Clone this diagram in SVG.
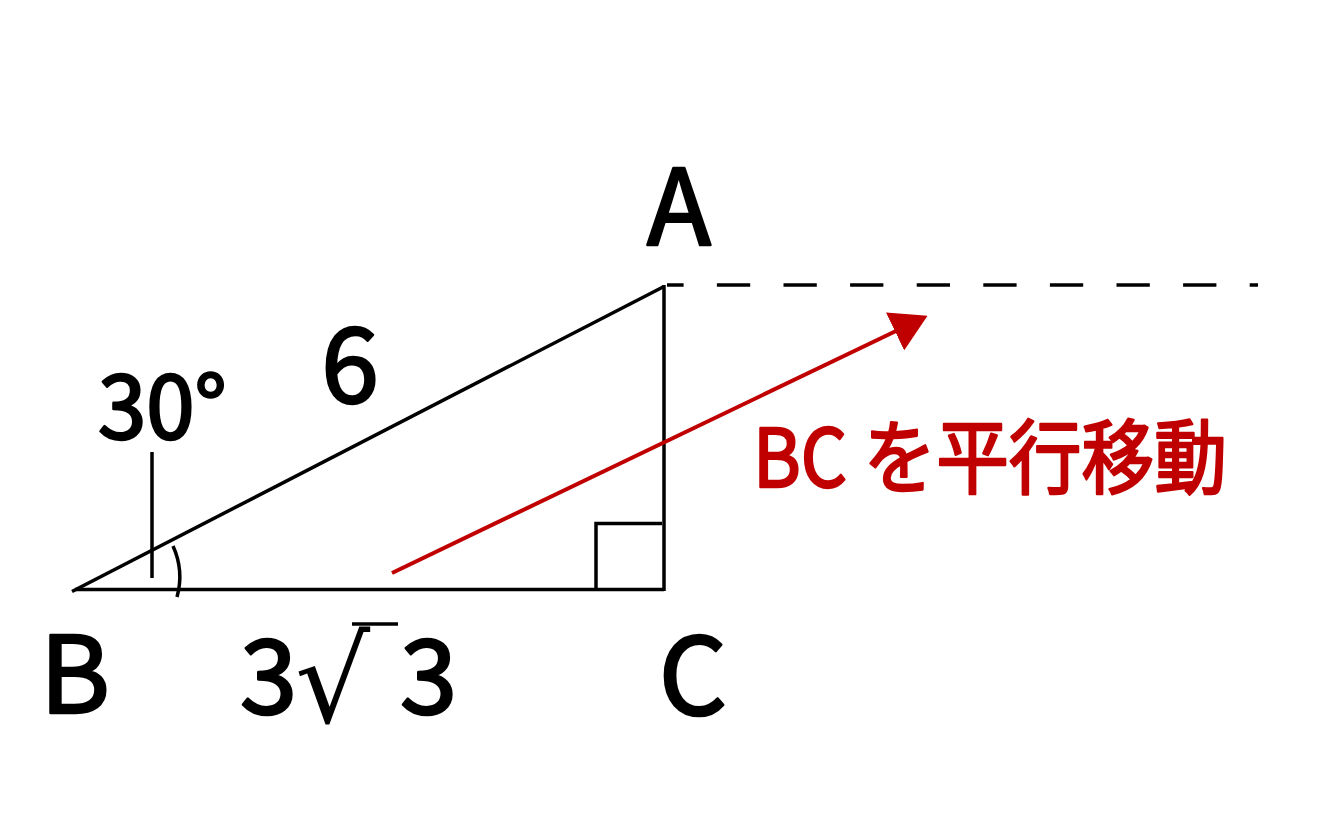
<svg xmlns="http://www.w3.org/2000/svg" width="1327" height="833" viewBox="0 0 1327 833">
<style>
.ln{stroke:#000;stroke-width:3.5;fill:none}
.lbl{font-family:"Noto Sans CJK JP","Noto Sans",sans-serif;fill:#000;stroke:#000;stroke-width:2.6;stroke-linejoin:round}
.red{font-family:"Noto Sans CJK JP",sans-serif;fill:#c00000;stroke:#c00000;stroke-width:2.4;stroke-linejoin:round}
</style>
<defs>
<marker id="ah" viewBox="0 -21 36 42" refX="1" refY="0" markerWidth="36" markerHeight="42" markerUnits="userSpaceOnUse" orient="auto">
<path d="M0,-21 L36,0 L0,21 z" fill="#c00000"/>
</marker>
</defs>
<rect width="1327" height="833" fill="#fff"/>
<g id="triangle">
<line class="ln" x1="72" y1="591.5" x2="664" y2="286.5"/>
<line class="ln" x1="75" y1="589.5" x2="664" y2="589.5"/>
<line class="ln" x1="664" y1="285" x2="664" y2="591"/>
<polyline class="ln" stroke-width="3" points="596,591 596,523.5 662,523.5"/>
<path class="ln" stroke-width="3" d="M173,546 A75,75 0 0 1 177,597"/>
<line class="ln" stroke-width="3" x1="152" y1="452" x2="152" y2="578"/>
</g>
<g id="dashed">
<line x1="667" y1="285" x2="1258" y2="285" stroke="#000" stroke-width="3.3" stroke-dasharray="33.3 33.3" stroke-dashoffset="16.7"/>
</g>
<g id="connectors">
<line x1="392" y1="573" x2="896" y2="331" stroke="#c00000" stroke-width="4" marker-end="url(#ah)"/>
</g>
<g id="label-A"><text class="lbl" x="679" y="245" font-size="105" text-anchor="middle">A</text></g>
<g id="label-B"><text class="lbl" x="75" y="713" font-size="107" text-anchor="middle">B</text></g>
<g id="label-C"><text class="lbl" x="693" y="715" font-size="107" text-anchor="middle">C</text></g>
<g id="label-6"><text class="lbl" x="350" y="403" font-size="104" text-anchor="middle">6</text></g>
<g id="label-30"><text class="lbl" x="98" y="439" font-size="87">30°</text></g>
<g id="label-3r3">
<text class="lbl" x="240" y="714" font-size="103">3</text>
<text x="295" y="722" font-size="118" font-family="DejaVu Sans,sans-serif" fill="#000">√</text>
<line class="ln" stroke-width="3.2" x1="352" y1="624" x2="398" y2="624"/>
<text class="lbl" x="400" y="714" font-size="103">3</text>
</g>
<g id="label-move"><text class="red" x="753" y="487" font-size="81" textLength="474" lengthAdjust="spacingAndGlyphs">BC を平行移動</text></g>
</svg>
